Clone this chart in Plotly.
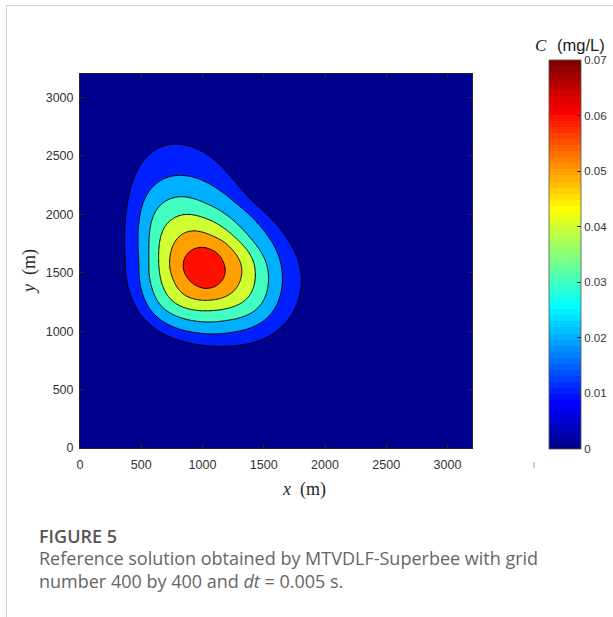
import numpy as np
import plotly.graph_objects as go

# ---------------------------------------------------------------------------
# Concentration field C (mg/L) on the 3200 m x 3200 m domain
# ---------------------------------------------------------------------------
DOMAIN = 3200.0
GRID_N = 321

PLUME_CENTER_X = 1010.0   # location of the concentration peak (m)
PLUME_CENTER_Y = 1545.0
PEAK_C = 0.068            # peak concentration (mg/L)

LEVELS = [0.01, 0.02, 0.03, 0.04, 0.05, 0.06]

# points on each iso-concentration line (m)
ISO_010_X = [695, 558, 477, 423, 390, 376, 382, 409, 504, 668, 858, 1118, 1308, 1526,
             1690, 1785, 1812, 1798, 1758, 1676, 1567, 1444, 1308, 1199, 1090, 981, 831]
ISO_010_Y = [2623, 2557, 2400, 2229, 2028, 1828, 1614, 1329, 1128, 986, 914, 877, 885, 943,
             1071, 1271, 1443, 1545, 1665, 1803, 1948, 2060, 2188, 2343, 2463, 2574, 2614]

ISO_020_X = [831, 695, 586, 518, 491, 482, 491, 504, 586, 750, 981, 1253, 1471, 1594,
             1649, 1635, 1586, 1498, 1390, 1253, 1118, 981]
ISO_020_Y = [2347, 2328, 2257, 2114, 1942, 1743, 1597, 1357, 1157, 1042, 988, 999, 1057, 1185,
             1385, 1597, 1725, 1854, 1983, 2098, 2214, 2300]

ISO_030_X = [858, 722, 627, 586, 572, 572, 586, 668, 831, 981, 1199, 1390, 1498, 1539,
             1518, 1447, 1363, 1253, 1118, 981]
ISO_030_Y = [2163, 2141, 2071, 1942, 1771, 1614, 1385, 1200, 1114, 1085, 1100, 1143, 1243, 1443,
             1597, 1717, 1820, 1940, 2043, 2103]

ISO_040_X = [885, 777, 695, 660, 648, 650, 668, 750, 913, 1046, 1185, 1292, 1390, 1431,
             1417, 1357, 1275, 1169, 1063, 981]
ISO_040_Y = [2008, 1983, 1914, 1803, 1657, 1528, 1414, 1257, 1185, 1179, 1194, 1224, 1299, 1468,
             1597, 1700, 1785, 1880, 1948, 1974]

ISO_050_X = [913, 818, 763, 736, 736, 763, 844, 967, 1090, 1199, 1281, 1322, 1308, 1251,
             1177, 1090, 997]
ISO_050_Y = [1863, 1824, 1743, 1631, 1528, 1443, 1314, 1269, 1271, 1299, 1371, 1494, 1597, 1683,
             1760, 1807, 1845]

ISO_060_X = [842, 867, 924, 989, 1063, 1128, 1169, 1186, 1161, 1095, 1022, 948, 883, 850]
ISO_060_Y = [1571, 1648, 1700, 1717, 1700, 1657, 1588, 1511, 1434, 1378, 1365, 1391, 1451, 1511]

ISO_LINES = [(ISO_010_X, ISO_010_Y), (ISO_020_X, ISO_020_Y), (ISO_030_X, ISO_030_Y),
             (ISO_040_X, ISO_040_Y), (ISO_050_X, ISO_050_Y), (ISO_060_X, ISO_060_Y)]

X_TICKS = [0, 500, 1000, 1500, 2000, 2500, 3000]
Y_TICKS = [0, 500, 1000, 1500, 2000, 2500, 3000]
C_TICKS = [0, 0.01, 0.02, 0.03, 0.04, 0.05, 0.06, 0.07]
C_TICK_TEXT = ["0", "0.01", "0.02", "0.03", "0.04", "0.05", "0.06", "0.07"]
C_MIN, C_MAX = 0.0, 0.07

# ---------------------------------------------------------------------------
# build the field from the iso-lines (polar radius of every level around the peak)
# ---------------------------------------------------------------------------
TH = np.linspace(-np.pi, np.pi, 720, endpoint=False)


def radius_curve(xs, ys):
    xs = np.asarray(xs, float) - PLUME_CENTER_X
    ys = np.asarray(ys, float) - PLUME_CENTER_Y
    ang = np.arctan2(ys, xs)
    rad = np.hypot(xs, ys)
    order = np.argsort(ang)
    r = np.interp(TH, ang[order], rad[order], period=2 * np.pi)
    spec = np.fft.rfft(r)
    k = np.arange(spec.size)
    spec *= np.exp(-(k / 10.0) ** 2)
    return np.fft.irfft(spec, TH.size)


xg = np.linspace(0, DOMAIN, GRID_N)
yg = np.linspace(0, DOMAIN, GRID_N)
XX, YY = np.meshgrid(xg, yg)
dx, dy = XX - PLUME_CENTER_X, YY - PLUME_CENTER_Y
rr = np.hypot(dx, dy)
th = np.arctan2(dy, dx)

R = [np.interp(th, TH, radius_curve(xs, ys), period=2 * np.pi) for xs, ys in ISO_LINES]

C = LEVELS[0] * np.exp(-(rr - R[0]) / 250.0)
for k in range(len(LEVELS) - 1):
    m = (rr <= R[k]) & (rr > R[k + 1])
    frac = (R[k][m] - rr[m]) / (R[k][m] - R[k + 1][m])
    C[m] = LEVELS[k] + (LEVELS[k + 1] - LEVELS[k]) * frac
m = rr <= R[-1]
C[m] = LEVELS[-1] + (PEAK_C - LEVELS[-1]) * (1 - (rr[m] / R[-1][m]) ** 2)
C = np.round(np.clip(C, 0, None), 6)

# ---------------------------------------------------------------------------
# colours: 64-entry jet map; each filled band takes the colour of its lower level
# ---------------------------------------------------------------------------
def jet(v):
    r = np.clip(1.5 - abs(4 * v - 3), 0, 1)
    g = np.clip(1.5 - abs(4 * v - 2), 0, 1)
    b = np.clip(1.5 - abs(4 * v - 1), 0, 1)
    return "rgb(%d,%d,%d)" % (round(r * 255), round(g * 255), round(b * 255))


N_COLORS = 64
jet64 = []
for i in range(N_COLORS):
    col = jet((i + 1) / N_COLORS)
    jet64.append([i / N_COLORS, col])
    jet64.append([(i + 1) / N_COLORS, col])

band_levels = [0.0] + LEVELS
band_cols = []
for lv in band_levels:
    idx = min(int(np.floor((lv - C_MIN) / (C_MAX - C_MIN) * N_COLORS + 1e-9)), N_COLORS - 1)
    band_cols.append(jet((idx + 1) / N_COLORS))
nb = len(band_cols)
band_scale = []
for i, col in enumerate(band_cols):
    band_scale.append([i / nb, col])
    band_scale.append([(i + 1) / nb, col])

# ---------------------------------------------------------------------------
# figure
# ---------------------------------------------------------------------------
W, H = 613, 617
ML, MR, MT, MB = 80, 141, 74, 169
PW, PH = W - ML - MR, H - MT - MB


def px(xp):
    return (xp - ML) / PW


def py(yp):
    return (H - MB - yp) / PH


AX_COL = "#262626"
TICK_FONT = dict(family="Liberation Sans, Arial, sans-serif", size=12.5, color="#333333")

fig = go.Figure()
fig.add_trace(go.Contour(
    x=xg, y=yg, z=C,
    autocontour=False,
    contours=dict(start=LEVELS[0], end=LEVELS[-1], size=0.01,
                  coloring="fill", showlines=True),
    line=dict(color="black", width=1, smoothing=0.8),
    colorscale=band_scale, zmin=C_MIN, zmax=C_MAX,
    showscale=False, hoverinfo="skip",
))

fig.add_trace(go.Scatter(
    x=[None], y=[None], mode="markers", showlegend=False, hoverinfo="skip",
    marker=dict(color=[C_MIN], cmin=C_MIN, cmax=C_MAX, colorscale=jet64, showscale=True,
                colorbar=dict(
                    x=px(549), xanchor="left", xpad=0,
                    y=py(254.5), yanchor="middle", ypad=0,
                    lenmode="pixels", len=389, thicknessmode="pixels", thickness=32,
                    outlinecolor="#555555", outlinewidth=0.8,
                    tickvals=C_TICKS, ticktext=C_TICK_TEXT,
                    ticks="inside", ticklen=4, tickcolor=AX_COL, tickwidth=1,
                    tickfont=dict(family="Liberation Sans, Arial, sans-serif",
                                  size=11.5, color="#333333"),
                    ticklabelposition="outside",
                )),
))

axis_common = dict(
    showgrid=False, zeroline=False, showline=True, linecolor=AX_COL, linewidth=1,
    mirror="allticks", ticks="inside", ticklen=4, tickwidth=1, tickcolor=AX_COL,
    tickfont=TICK_FONT, fixedrange=True,
)
fig.update_xaxes(range=[0, DOMAIN], tickvals=X_TICKS, ticklabelstandoff=5, **axis_common)
fig.update_yaxes(range=[0, DOMAIN], tickvals=Y_TICKS, ticklabelstandoff=3, **axis_common)

serif = "Liberation Serif, Times New Roman, serif"
sans_caption = "Open Sans, Noto Sans, sans-serif"
annotations = [
    dict(text="<i>x</i>\u2002(m)", x=px(304), y=py(489), xanchor="center", yanchor="middle",
         font=dict(family=serif, size=18, color=AX_COL)),
    dict(text="<i>y</i>\u2002(m)", x=px(29), y=py(272), xanchor="center", yanchor="middle",
         textangle=-90, font=dict(family=serif, size=18, color=AX_COL)),
    dict(text="<i>C</i>", x=px(541), y=py(46), xanchor="center", yanchor="middle",
         font=dict(family=serif, size=17, color="#1a1a1a")),
    dict(text="(mg/L)", x=px(555), y=py(45), xanchor="left", yanchor="middle",
         font=dict(family="Liberation Sans, Arial, sans-serif", size=16.5, color="#1a1a1a")),
    dict(text="FIGURE 5", x=px(37), y=py(536), xanchor="left", yanchor="middle",
         font=dict(family=sans_caption, size=18, color="#555555", weight=600)),
    dict(text="Reference solution obtained by MTVDLF-Superbee with grid",
         x=px(37), y=py(558), xanchor="left", yanchor="middle",
         font=dict(family=sans_caption, size=18, color="#666666")),
    dict(text="number 400 by 400 and <i>dt</i> = 0.005 s.",
         x=px(37), y=py(581), xanchor="left", yanchor="middle",
         font=dict(family=sans_caption, size=18, color="#666666")),
]
for a in annotations:
    a.update(xref="paper", yref="paper", showarrow=False)

shapes = [
    dict(type="line", xref="paper", yref="paper", x0=px(6), x1=px(613), y0=py(5.5), y1=py(5.5),
         line=dict(color="#d0d0d0", width=1)),
    dict(type="line", xref="paper", yref="paper", x0=px(6.5), x1=px(6.5), y0=py(5), y1=py(617),
         line=dict(color="#d0d0d0", width=1)),
    dict(type="line", xref="paper", yref="paper", x0=px(534), x1=px(534), y0=py(462), y1=py(468),
         line=dict(color="#999999", width=1)),
]

fig.update_layout(
    width=W, height=H, margin=dict(l=ML, r=MR, t=MT, b=MB, pad=0, autoexpand=False),
    paper_bgcolor="white", plot_bgcolor="white", showlegend=False,
    annotations=annotations, shapes=shapes,
)

fig.write_html("out.html")
